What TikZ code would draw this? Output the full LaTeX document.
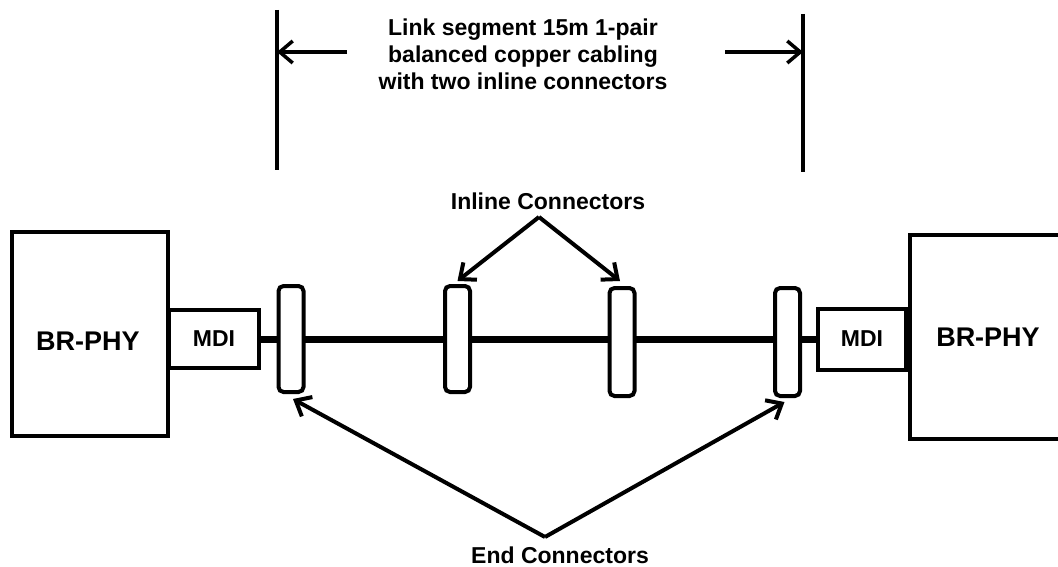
\documentclass[tikz,border=0pt]{standalone}
\usepackage{fontspec}
\setmainfont{Liberation Sans}
\usetikzlibrary{arrows.meta,calc}
\begin{document}
\begin{tikzpicture}[x=1pt,y=-1pt,
  box/.style={draw,line width=4pt,fill=white,inner sep=0pt},
  conn/.style={draw,line width=4pt,fill=white,rounded corners=5pt,minimum width=25pt,minimum height=106pt,inner sep=0pt},
  lbl/.style={font=\bfseries\fontsize{23}{27}\selectfont,align=center,inner sep=0pt},
  biglbl/.style={font=\bfseries\fontsize{27}{31}\selectfont,inner sep=0pt},
  cable/.style={line width=7pt},
  dimline/.style={line width=3.5pt},
  ptr/.style={line width=4pt,-{Straight Barb[length=13pt,width=22pt,line width=4pt]}},
  dimarrow/.style={line width=3.5pt,-{Straight Barb[length=13pt,width=22pt,line width=3.5pt]}}]
\useasboundingbox (0,0) rectangle (1058,567);
\begin{scope}
\clip (0,0) rectangle (1058,567);
% PHY boxes
\node[box,minimum width=156pt,minimum height=204pt] (phyL) at (90,334) {};
\node[box,minimum width=170pt,minimum height=204pt] (phyR) at (995,337) {};
% MDI boxes
\node[box,minimum width=90pt,minimum height=58pt] (mdiL) at (214,339) {};
\node[box,minimum width=88pt,minimum height=61pt] (mdiR) at (862,339) {};
% cable
\draw[cable] (mdiL.east) -- (mdiR.west);
% connectors
\node[conn] (c1) at (291,339) {};
\node[conn] (c2) at (457.5,339) {};
\node[conn,minimum height=108pt] (c3) at (622,342) {};
\node[conn,minimum height=108pt] (c4) at (787.5,342) {};
% labels
\node[biglbl] (phyLt) at (88,341) {BR-PHY};
\node[biglbl] (phyRt) at (988,337) {BR-PHY};
\node[lbl] (mdiLt) at (mdiL) {MDI};
\node[lbl] (mdiRt) at (mdiR) {MDI};
% dimension
\coordinate (dl1) at (277,10);
\coordinate (dl2) at (277,170);
\coordinate (dr1) at (803,14);
\coordinate (dr2) at (803,172);
\draw[dimline] (dl1) -- (dl2);
\draw[dimline] (dr1) -- (dr2);
\coordinate (aLtail) at (347,52);
\coordinate (aLtip) at (277,52);
\coordinate (aRtail) at (725,52);
\coordinate (aRtip) at (803,52);
\draw[dimarrow] (aLtail) -- (aLtip);
\draw[dimarrow] (aRtail) -- (aRtip);
\node[lbl] (title) at (523,54) {Link segment 15m 1-pair\\balanced copper cabling\\with two inline connectors};
% inline connectors pointer
\node[lbl] (inl) at (548,201) {Inline Connectors};
\coordinate (iapex) at (539,217);
\draw[ptr] (iapex) -- ($(c2.north)+(0,-3)$);
\draw[ptr] (iapex) -- ($(c3.north)+(-2,-5)$);
% end connectors pointer
\node[lbl] (endl) at (560,555) {End Connectors};
\coordinate (eapex) at (545,537);
\draw[ptr] (eapex) -- ($(c1.south)+(2,5)$);
\draw[ptr] (eapex) -- ($(c4.south)+(-3,4)$);
\end{scope}
\end{tikzpicture}
\end{document}
